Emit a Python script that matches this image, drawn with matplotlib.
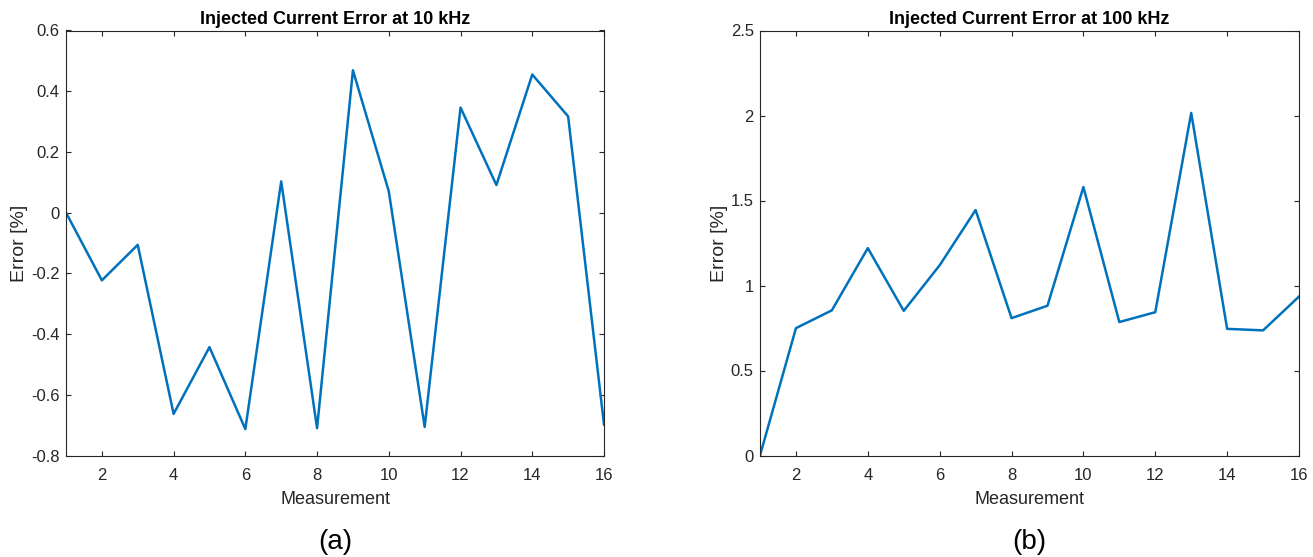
import matplotlib
matplotlib.use("Agg")
import matplotlib.pyplot as plt

# Measurement index and injected-current error (%) at two frequencies
measurement = list(range(1, 17))
error_10khz = [0.0, -0.223, -0.106, -0.663, -0.443, -0.713, 0.103, -0.710,
               0.469, 0.070, -0.706, 0.346, 0.091, 0.455, 0.317, -0.698]
error_100khz = [0.0, 0.749, 0.854, 1.220, 0.851, 1.119, 1.444, 0.808,
                0.881, 1.579, 0.785, 0.843, 2.015, 0.745, 0.736, 0.935]

titles = ["Injected Current Error at 10 kHz", "Injected Current Error at 100 kHz"]
panel_tags = ["(a)", "(b)"]
xticks = [2, 4, 6, 8, 10, 12, 14, 16]
yticks_a = [-0.8, -0.6, -0.4, -0.2, 0, 0.2, 0.4, 0.6]
yticks_b = [0, 0.5, 1, 1.5, 2, 2.5]

plt.rcParams['font.family'] = ['Liberation Sans', 'DejaVu Sans']
line_color = '#0072BD'
axis_color = '#262626'

W, H = 1313, 557
fig = plt.figure(figsize=(W / 100, H / 100), dpi=100)
ax_a = fig.add_axes([66 / W, 1 - 455.5 / H, 538 / W, 425 / H])
ax_b = fig.add_axes([760 / W, 1 - 455.5 / H, 539 / W, 425 / H])

panels = [
    (ax_a, error_10khz, yticks_a, (-0.8, 0.6), titles[0], panel_tags[0]),
    (ax_b, error_100khz, yticks_b, (0, 2.5), titles[1], panel_tags[1]),
]

for ax, vals, yt, ylim, title, tag in panels:
    ax.plot(measurement, vals, color=line_color, linewidth=1.8)
    ax.set_xlim(1, 16)
    ax.set_ylim(*ylim)
    ax.set_xticks(xticks)
    ax.set_yticks(yt)
    ax.set_yticklabels([f"{v:g}" for v in yt])
    ax.tick_params(direction='in', top=True, right=True, length=3.6,
                   width=0.8, colors=axis_color, labelsize=12)
    ax.tick_params(axis='x', pad=9)
    ax.tick_params(axis='y', pad=4.5)
    for sp in ax.spines.values():
        sp.set_color(axis_color)
        sp.set_linewidth(0.8)
    ax.set_title(title, fontsize=13, fontweight='bold', color='black', pad=5)
    ax.set_xlabel("Measurement", fontsize=13, color=axis_color, labelpad=6)
    ax.set_ylabel("Error [%]", fontsize=14, color=axis_color, labelpad=2)
    bb = ax.get_position()
    fig.text((bb.x0 + bb.x1) / 2, 1 - 542 / H, tag, ha='center', va='center',
             fontsize=20, color='black')

fig.savefig("out.png", dpi=100)
